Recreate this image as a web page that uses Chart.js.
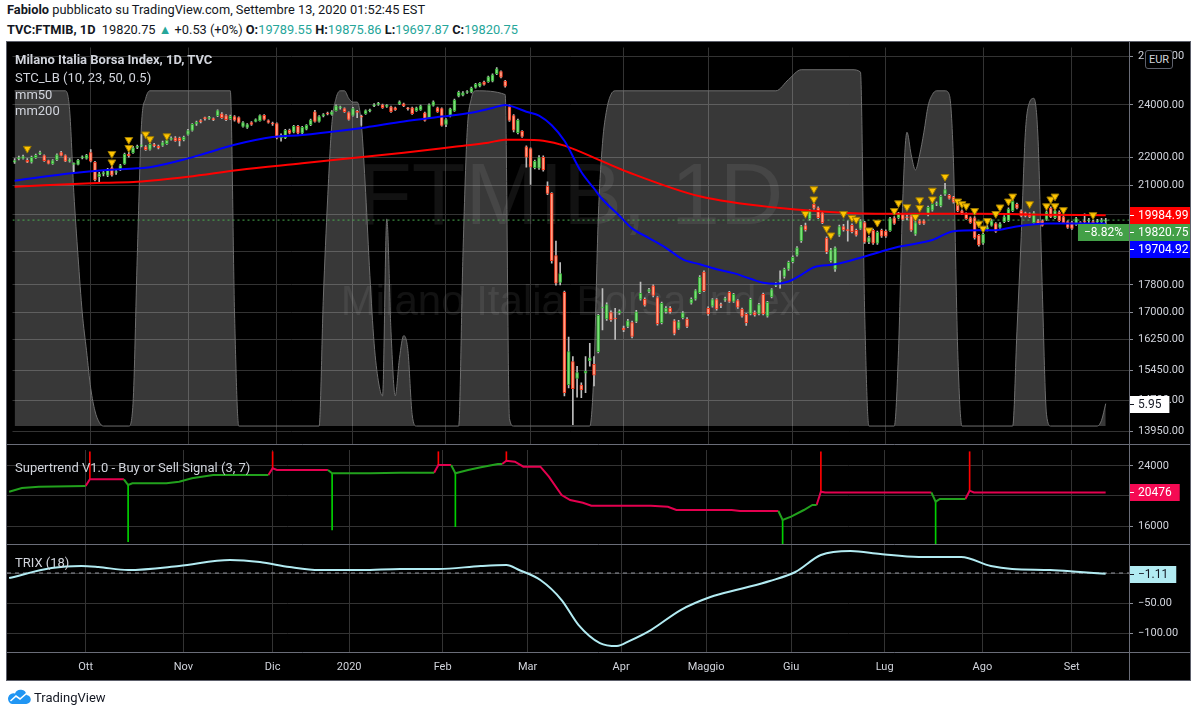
<!DOCTYPE html>
<html lang="it">
<head>
<meta charset="utf-8">
<title>FTMIB 1D - TradingView</title>
<script src="https://cdn.jsdelivr.net/npm/chart.js@4.4.1/dist/chart.umd.min.js"></script>
<style>
  html, body { margin: 0; padding: 0; background: #ffffff; }
  body { position: relative; width: 1197px; height: 716px; overflow: hidden; font-family: Roboto, 'Liberation Sans', sans-serif; }
  .riga { position: absolute; left: 7px; color: #131722; white-space: nowrap; line-height: 16px; font-size: 12.8px; }
  #riga1 { top: 2px; }
  #riga2 { top: 22px; }
  .teal { color: #26a69a; }
  #pannello { position: absolute; left: 7px; top: 42px; width: 1183px; height: 638px; background: #000; box-shadow: 0 0 0 1px #5d606b; }
  #pannello canvas { position: absolute; left: 0; }
  .leg { position: absolute; left: 8px; color: #d1d4dc; font-size: 13px; white-space: nowrap; line-height: 17px; }
  #eur { position: absolute; left: 1138px; top: 8px; width: 26px; height: 17px; border: 1px solid #5d606b; border-radius: 3px;
         background: #000; color: #d1d4dc; font-size: 11px; text-align: center; line-height: 17px; }
  #logo { position: absolute; left: 7px; top: 689px; display: flex; align-items: center; gap: 3px; font-size: 13px; color: #131722; }
</style>
</head>
<body>
<div class="riga" id="riga1"><b>Fabiolo</b> pubblicato su TradingView.com, Settembre 13, 2020 01:52:45 EST</div>
<div class="riga" id="riga2"><b>TVC:FTMIB, 1D</b>&nbsp; 19820.75 <span class="teal">▲</span> +0.53 (+0%) <b>O:</b><span class="teal">19789.55</span> <b>H:</b><span class="teal">19875.86</span> <b>L:</b><span class="teal">19697.87</span> <b>C:</b><span class="teal">19820.75</span></div>

<div id="pannello">
  <canvas id="cPrezzo" width="1183" height="408" style="top:0"></canvas>
  <canvas id="cSuper" width="1183" height="95" style="top:408px"></canvas>
  <canvas id="cTrix" width="1183" height="135" style="top:503px"></canvas>
  <div class="leg" style="top:9px;font-weight:bold">Milano Italia Borsa Index, 1D, TVC</div>
  <div class="leg" style="top:27px">STC_LB (10, 23, 50, 0.5)</div>
  <div class="leg" style="top:44px">mm50</div>
  <div class="leg" style="top:60px">mm200</div>
  <div class="leg" style="top:417px">Supertrend V1.0 - Buy or Sell Signal (3, 7)</div>
  <div class="leg" style="top:512px">TRIX (18)</div>
  <div id="eur">EUR</div>
</div>

<div id="logo">
  <svg width="24" height="16" viewBox="0 0 24 16"><path d="M5 15 H19 A4.5 4.5 0 0 0 19.5 6 A6 6 0 0 0 8 4.5 A4.5 4.5 0 0 0 5 15 Z" fill="#2196f3"/><path d="M3.5 12 L9 7 L13 10 L20 4" stroke="#fff" stroke-width="1.6" fill="none"/></svg>
  TradingView
</div>

<script>
// mesi sull'asse x (il primo, settembre 2019, e' parziale e senza etichetta)
const mesi = ['Set', 'Ott', 'Nov', 'Dic', '2020', 'Feb', 'Mar', 'Apr', 'Maggio', 'Giu', 'Lug', 'Ago', 'Set'];
const giorniMese = [18, 23, 21, 18, 22, 20, 22, 20, 20, 22, 23, 21, 9];

// candele giornaliere [open, high, low, close]
const cSet19 = [
  [21820,21950,21780,21880],[21950,22040,21900,21960],[21960,22080,21930,22030],[21890,21950,21800,21820],
  [21820,22040,21790,22000],[21990,22120,21960,22070],[22120,22230,22100,22170],[22060,22090,21850,21880],
  [21880,21900,21760,21780],[21760,21920,21740,21880],[21900,22130,21880,22090],[22170,22220,22050,22070],
  [22060,22090,21840,21860],[21860,21950,21820,21910],[21740,21800,21470,21750],[21740,21930,21720,21900],
  [21980,22050,21940,21990],[21960,22110,21930,22070]
];
const cOtt19 = [
  [22170,22280,21830,21860],[21820,21850,21150,21190],[21300,21460,21120,21400],[21400,21520,21330,21450],
  [21350,21600,21300,21560],[21620,21680,21320,21360],[21450,21560,21380,21470],[21560,21740,21520,21700],
  [21760,22150,21740,22110],[22110,22180,22000,22060],[22170,22400,22140,22350],[22360,22450,22320,22400],
  [22420,22850,22380,22440],[22390,22430,22250,22280],[22290,22520,22260,22480],[22440,22520,22380,22430],
  [22400,22450,22310,22350],[22440,22600,22400,22540],[22500,22700,22480,22640],[22660,22760,22630,22710],
  [22720,22770,22590,22610],[22710,22750,22420,22610],[22640,22790,22610,22750]
];
const cNov19 = [
  [22850,23050,22820,23000],[23000,23270,22980,23240],[23250,23360,23200,23320],[23350,23420,23290,23340],
  [23470,23520,23400,23460],[23470,23550,23430,23510],[23460,23490,23380,23420],[23570,23800,23540,23770],
  [23650,23700,23470,23500],[23580,23620,23380,23420],[23460,23600,23430,23560],[23540,23580,23360,23400],
  [23500,23530,23280,23310],[23160,23340,23130,23310],[23120,23270,23080,23230],[23310,23340,23200,23230],
  [23350,23450,23330,23420],[23380,23610,23360,23580],[23590,23620,23400,23430],[23380,23410,23280,23310],
  [23270,23320,23200,23250]
];
const cDic19 = [
  [23270,23300,22680,22720],[22720,22870,22600,22830],[22720,23050,22690,23010],[23010,23060,22870,22900],
  [22940,23200,22910,23160],[23160,23200,22870,22900],[22900,23160,22870,23120],[23050,23230,23020,23200],
  [23220,23440,23190,23400],[23730,23780,23320,23350],[23350,23580,23320,23540],[23560,23660,23530,23620],
  [23680,23720,23600,23640],[23620,23770,23590,23730],[23770,24000,23750,23960],[23880,23950,23830,23890],
  [23850,23880,23700,23730],[23700,23730,23400,23430]
];
const cGen20 = [
  [23580,23900,23550,23850],[23740,23780,23500,23700],[23560,23600,23200,23520],[23650,23800,23620,23770],
  [23760,23830,23720,23780],[23960,24050,23930,24000],[24020,24100,23980,24040],[24000,24030,23860,23890],
  [23940,24010,23900,23970],[23920,23950,23700,23730],[23880,23910,23780,23810],[24040,24160,24010,24120],
  [24040,24070,23930,23960],[23850,23900,23790,23840],[23880,23910,23620,23650],[23770,23910,23740,23880],
  [23800,23990,23780,23960],[23690,23720,23360,23390],[23500,24040,23470,24000],[23980,24160,23950,24120],
  [23880,23910,23700,23730],[23850,23880,23170,23200]
];
const cFeb20 = [
  [23230,23460,23150,23420],[23560,23870,23530,23840],[23770,24230,23740,24190],[24350,24560,24320,24510],
  [24390,24540,24360,24490],[24500,24580,24460,24520],[24510,24720,24480,24680],[24710,24870,24680,24830],
  [24760,24910,24730,24870],[24930,24970,24800,24830],[24940,25180,24910,25140],[24960,25270,24930,25230],
  [25280,25530,25240,25480],[25370,25400,25100,25130],[24970,25000,24720,24760],[23920,24000,23350,23390],
  [23580,23620,22950,23010],[22920,23440,22870,23400],[22970,23000,22740,22780],[22390,22420,21640,22000]
];
const cMar20 = [
  [22320,22350,21030,21640],[21620,21900,21580,21850],[21610,22060,21560,21990],[22000,22050,21500,21540],
  [20960,21120,20680,20720],[20720,20750,18450,18530],[18690,19140,17790,17850],[17870,18470,17800,18140],
  [17580,17620,14800,14880],[15080,16320,15000,15930],[15670,15800,14110,14980],[15240,15550,14770,15390],
  [15070,15130,14760,14950],[15370,15800,14880,15420],[15690,16150,15550,15770],[15600,15800,15050,15320],
  [15930,16950,15900,16920],[17130,17690,16520,17150],[16820,17280,16780,17230],[17000,17050,16750,16790],
  [16840,17120,16260,16820],[16990,17080,16950,17040]
];
const cApr20 = [
  [16570,16620,16470,16520],[16610,16810,16580,16770],[16720,16760,16300,16340],[16750,17060,16720,17020],
  [17380,17880,17350,17550],[17380,17420,17180,17210],[17610,17700,17570,17660],[17770,17800,17450,17490],
  [17430,17460,16650,16690],[16720,17300,16680,17260],[17020,17170,16980,17130],[17130,17170,16980,17020],
  [16770,16800,16380,16420],[16560,16780,16530,16740],[16850,17030,16820,16990],[16820,16860,16580,16610],
  [17270,17420,17240,17380],[17380,17660,17350,17630],[17570,18080,17540,18030],[18180,18220,17600,17630]
];
const cMag20 = [
  [17120,17160,16920,16960],[17180,17400,17150,17370],[17370,17400,17070,17100],[17210,17270,17140,17200],
  [17350,17440,17320,17400],[17580,17610,17290,17320],[17320,17550,17290,17520],[17340,17370,17120,17150],
  [17100,17130,16870,16900],[16950,16980,16640,16720],[16960,17410,16930,17380],[17000,17050,16900,16930],
  [16960,17260,16930,17230],[17520,17560,16930,16960],[16900,17320,16870,17290],[17450,17690,17420,17660],
  [17780,17870,17750,17830],[17920,18220,17700,17940],[18050,18300,18000,18270],[18270,18520,18230,18480]
];
const cGiu20 = [
  [18500,18680,18460,18630],[18700,18970,18670,18930],[19150,19650,19100,19610],[19640,19720,19460,19500],
  [19860,20170,19820,20130],[20350,20500,20180,20220],[20230,20260,19870,19900],[20060,20100,19700,19740],
  [19240,19280,18750,18800],[18520,18910,18480,18870],[18270,18960,18200,18930],[19330,19660,19290,19610],
  [19610,19680,19460,19500],[19500,19800,19140,19480],[19650,19700,19400,19440],[19490,19530,19300,19330],
  [19550,19840,19520,19800],[19740,19780,19070,19110],[19110,19300,19060,19250],[19490,19530,19040,19080],
  [19080,19460,19040,19420],[19490,19530,19260,19300]
];
const cLug20 = [
  [19460,19500,19260,19300],[19480,19910,19450,19870],[19900,19940,19680,19710],[19900,20080,19870,20030],
  [20000,20040,19810,19840],[19910,19990,19830,19900],[19960,20000,19450,19490],[19360,19780,19320,19740],
  [19800,19840,19680,19710],[19800,19830,19680,19710],[19990,20290,19960,20250],[20150,20390,20120,20350],
  [20350,20430,20300,20360],[20290,20660,20260,20620],[20690,21070,20650,20850],[20650,20690,20520,20550],
  [20590,20620,20390,20420],[20450,20480,20100,20130],[20130,20160,20000,20030],[20030,20060,19840,19870],
  [19900,19930,19710,19740],[19900,19940,19200,19240],[19330,19360,18980,19020]
];
const cAgo20 = [
  [19080,19400,19040,19360],[19540,19640,19470,19560],[19650,19840,19620,19800],[19710,19740,19420,19450],
  [19580,19740,19550,19700],[19770,19970,19740,19930],[19800,20230,19770,20190],[20130,20500,20100,20450],
  [20350,20390,20190,20220],[20130,20160,19930,19960],[20060,20090,19930,19960],[20030,20060,19900,19930],
  [19740,20100,19710,20060],[19800,19840,19680,19710],[19800,19830,19620,19650],[19840,20130,19810,20090],
  [20220,20260,19900,19930],[19900,20170,19870,20130],[20090,20130,19770,19800],[19930,19960,19710,19740],
  [19770,19800,19550,19580]
];
const cSet20 = [
  [19740,19780,19520,19550],[19680,19910,19650,19870],[19740,19770,19450,19490],[19770,20030,19580,19760],
  [19800,19880,19730,19810],[19770,19810,19680,19710],[19760,19850,19720,19800],[19760,19880,19730,19820.22],
  [19789.55,19875.86,19697.87,19820.75]
];

// medie mobili [indice candela, valore]
const mm50 = [[0,21160],[14,21430],[21,21530],[29,21600],[32,21640],[41,21960],[45,22140],[52,22460],[61,22750],
  [68,22830],[78,23010],[83,23120],[92,23350],[101,23540],[108,23690],[113,23880],[116,24000],[118,23920],
  [121,23730],[124,23580],[127,23200],[130,22610],[134,21470],[137,20890],[139,20520],[143,19965],[146,19550],
  [150,19240],[154,18930],[158,18570],[162,18420],[166,18270],[170,18150],[174,17980],[177,17860],[180,17830],
  [183,17900],[186,18100],[189,18330],[194,18420],[201,18660],[209,18960],[217,19175],[222,19460],[228,19490],
  [232,19490],[236,19590],[244,19710],[258,19704.92]];
const mm200 = [[0,20950],[21,21090],[29,21125],[41,21300],[53,21540],[68,21780],[92,22170],[104,22390],[112,22540],
  [116,22650],[120,22650],[125,22610],[130,22430],[139,21850],[145,21470],[162,20620],[181,20220],[197,20060],
  [213,20030],[228,20030],[244,20000],[258,19984.99]];

// STC_LB (scala 0-100, area grigia)
const stc = [[0,89],[12,89],[13,84],[14,62],[15,45],[16,30],[17,20],[18,10],[19,4],[20,1],[21,0],[27,0],[28,6],
  [29,45],[30,80],[31,87],[32,89],[51,89],[52,30],[53,0],[72,0],[73,34],[74,60],[75,80],[76,87],[77,89],[78,89],
  [79,87],[80,86],[81,86],[82,80],[83,62],[84,40],[85,22],[86,12],[87,8],[88,55],[89,25],[90,8],[91,18],[92,24],
  [93,20],[94,3],[95,0],[105,0],[106,45],[107,78],[108,87],[109,89],[116,88],[117,2],[118,0],[136,0],[137,15],
  [138,55],[139,75],[140,84],[141,88],[142,89],[180,89],[183,92],[186,94.6],[198,94.6],[200,94],[201,30],[202,0],
  [208,0],[209,20],[210,60],[211,78],[212,72],[213,68],[214,72],[215,78],[216,85],[217,88],[218,89],[220,89],
  [221,88],[222,70],[223,20],[224,0],[236,0],[237,25],[238,50],[239,78],[240,86],[241,87],[242,76],[243,36],
  [244,3],[245,0],[256,0],[257,1.5],[258,5.95]];

// triangoli gialli sopra le candele
const segnali = [[3,22320],[23,22130],[23,21820],[27,22650],[27,22350],[31,22860],[32,22680],[36,22790],
  [187,20030],[189,20870],[189,20520],[192,19550],[193,19330],[196,20030],[198,19900],[199,19840],[202,19490],
  [204,19740],[208,20130],[209,20390],[211,20260],[213,19930],[214,20490],[214,20230],[217,20820],[217,20520],
  [220,21300],[223,20450],[224,20360],[225,20290],[227,20130],[228,19710],[229,19550],[230,19800],[232,20030],
  [233,20250],[235,20450],[236,20620],[240,20360],[244,20290],[245,20520],[246,20620],[246,20290],[248,20160],
  [255,19990]];

// Supertrend: tratti verdi (rialzo) e rossi (ribasso)
const stVerde = [
  [[0,20573],[3,21067],[7,21240],[18,21333]],
  [[27,22227],[28,21467],[29,21693],[37,21693],[40,21907],[43,22360],[48,22800],[61,22800]],
  [[75,23467],[76,23027],[85,23027],[92,23110],[100,23110]],
  [[104,24133],[105,23027],[108,23467],[111,23830],[115,24267],[116,24267]],
  [[181,18000],[182,16800],[184,17240],[187,18133],[189,18800],[190,18800]],
  [[217,20476],[218,19240],[219,19600],[225,19600]]
];
const stRosso = [
  [[18,21333],[19,22227],[27,22227]],
  [[61,22800],[62,23693],[63,23467],[75,23467]],
  [[100,23110],[101,24133],[104,24133]],
  [[116,24267],[117,24707],[119,24573],[121,23907],[125,23907],[127,22573],[130,20133],[132,19467],[135,19107],
   [137,18707],[151,18707],[155,18573],[157,18133],[170,18133],[172,18000],[181,18000]],
  [[190,18800],[191,20573],[192,20476],[217,20476]],
  [[225,19600],[226,20707],[227,20476],[258,20476]]
];
// frecce del Supertrend [indice, da, a]
const stVendita = [[19,22227,25900],[62,23693,25900],[101,24133,25900],[117,24707,25900],[191,20573,25900],[226,20707,25900]];
const stAcquisto = [[28,21467,13900],[76,23027,15470],[105,23027,15910],[182,16800,13470],[218,19240,13470]];

// TRIX (18)
const trix = [[0,-8.3],[10,8.3],[17,11.7],[21,10],[28,5],[40,11.7],[52,21.7],[59,18.3],[66,10],[73,5],[83,5],
  [92,6.7],[101,6.7],[111,11.7],[117,13.3],[120,5],[125,-11.7],[130,-45],[134,-86.7],[139,-116.7],[143,-121.7],
  [146,-113],[151,-95],[158,-61.7],[165,-40],[172,-26.7],[179,-13.3],[185,1.7],[191,30],[198,36.7],[205,31.7],
  [214,26.7],[224,26.7],[231,11.7],[236,6.7],[245,5],[252,1.7],[258,-1.11]];
const trixZero = 0;

const tickPrezzo = [13950, 14700, 15450, 16250, 17000, 17800, 18800, 20000, 21000, 22000, 24000, 26000];
const tickSuper = [16000, 20000, 24000];
const tickTrix = [-100, -50, 0];
const variazione = '\u22128.82%';

const FONT = "Roboto, 'Liberation Sans', sans-serif";
const GRIGLIA = '#333333';
const BORDO = '#6a6d78';
const TESTO_ASSE = '#d1d4dc';

Chart.defaults.font.family = FONT;
Chart.defaults.font.size = 11;

const candele = [].concat(cSet19, cOtt19, cNov19, cDic19, cGen20, cFeb20, cMar20, cApr20, cMag20, cGiu20, cLug20, cAgo20, cSet20);
const ultimo = candele.length - 1;
const xMax = ultimo + 0.5 + 5;

const inizioMese = [];
let conta = 0;
giorniMese.forEach((g, k) => { if (k > 0) inizioMese.push(conta); conta += g; });
const etichettaMese = {};
inizioMese.forEach((v, k) => { etichettaMese[v] = mesi[k + 1]; });

const punti = arr => arr.map(([x, y]) => ({ x, y }));
const ultimoDi = arr => arr[arr.length - 1][1];
const meno = v => (v < 0 ? '\u2212' : '') + Math.abs(v).toFixed(2);

function asseX(conEtichette) {
  return {
    type: 'linear', min: -0.5, max: xMax, offset: false, bounds: 'data',
    grid: { color: GRIGLIA, drawTicks: false, offset: false },
    border: { display: false },
    ticks: {
      display: conEtichette, color: TESTO_ASSE, padding: 8, maxRotation: 0, autoSkip: false,
      callback: v => etichettaMese[v] || ''
    },
    afterBuildTicks: s => { s.ticks = inizioMese.map(v => ({ value: v })); },
    afterFit: s => { s.height = conEtichette ? 27 : 0; s.paddingLeft = 0; s.paddingRight = 0; }
  };
}

function asseY(tipo, min, max, valori, formato) {
  return {
    type: tipo, position: 'right', min: min, max: max, bounds: 'data',
    grid: { color: GRIGLIA, tickLength: 4, tickColor: '#8a8d96' },
    border: { display: true, color: BORDO },
    ticks: { color: TESTO_ASSE, padding: 5, callback: formato },
    afterBuildTicks: s => { s.ticks = valori.map(v => ({ value: v })); },
    afterFit: s => { s.width = 61; s.paddingTop = 0; s.paddingBottom = 0; }
  };
}

const cornice = {
  id: 'cornice',
  afterDraw(chart) {
    const { ctx, chartArea } = chart;
    ctx.save();
    ctx.strokeStyle = BORDO;
    ctx.lineWidth = 1;
    ctx.beginPath();
    const xr = Math.round(chartArea.right) + 0.5;
    ctx.moveTo(xr, 0); ctx.lineTo(xr, chart.height);
    const yb = Math.round(chartArea.bottom) - 0.5;
    ctx.moveTo(0, yb); ctx.lineTo(chart.width, yb);
    ctx.stroke();
    ctx.restore();
  }
};

const etichette = {
  id: 'etichette',
  afterDraw(chart, args, opts) {
    const { ctx, chartArea } = chart;
    const voci = (opts.voci || []).map(e => Object.assign({}, e, { y: chart.scales[e.asse || 'y'].getPixelForValue(e.valore) }))
      .sort((a, b) => a.y - b.y);
    let prec = -Infinity;
    voci.forEach(e => { if (e.y < prec + 17) e.y = prec + 17; prec = e.y; });
    ctx.save();
    ctx.font = '12px ' + FONT;
    ctx.textBaseline = 'middle';
    const x0 = Math.round(chartArea.right) + 1;
    voci.forEach(e => {
      const y = Math.round(e.y);
      const w = Math.min(ctx.measureText(e.testo).width + 16, chart.width - x0);
      ctx.fillStyle = e.sfondo;
      ctx.fillRect(x0, y - 8, w, 17);
      ctx.fillStyle = e.colore;
      ctx.fillRect(x0, y, 4, 1);
      ctx.fillText(e.testo, x0 + 8, y + 1);
      if (e.extra) {
        const we = ctx.measureText(e.extra).width + 12;
        ctx.fillStyle = e.sfondo;
        ctx.fillRect(x0 - 1 - we, y - 8, we, 17);
        ctx.fillStyle = e.colore;
        ctx.fillText(e.extra, x0 - we + 5, y + 1);
      }
    });
    ctx.restore();
  }
};

const filigrana = {
  id: 'filigrana',
  beforeDatasetsDraw(chart, args, opts) {
    if (!opts.titolo) return;
    const { ctx, chartArea } = chart;
    const cx = (chartArea.left + chartArea.right) / 2;
    ctx.save();
    ctx.fillStyle = 'rgba(255,255,255,0.07)';
    ctx.textAlign = 'center';
    ctx.textBaseline = 'middle';
    ctx.font = "88px 'Liberation Sans', sans-serif";
    ctx.fillText(opts.titolo, cx, 158);
    ctx.font = "42px 'Liberation Sans', sans-serif";
    ctx.fillText(opts.sottotitolo, cx, 261);
    ctx.restore();
  }
};

const base = {
  responsive: false,
  animation: false,
  events: [],
  layout: { padding: 0 }
};

function creaGrafici() {
  const su = candele.map(c => c[3] >= c[0]);

  new Chart(document.getElementById('cPrezzo'), {
    type: 'bar',
    data: {
      datasets: [
        { type: 'line', label: 'STC', yAxisID: 'yStc', data: punti(stc), borderColor: '#6e6e6e', borderWidth: 1,
          backgroundColor: 'rgba(255,255,255,0.22)', fill: 'origin', pointRadius: 0, cubicInterpolationMode: 'monotone', order: 10 },
        { type: 'line', label: 'ultimo', data: [{ x: -0.5, y: candele[ultimo][3] }, { x: xMax, y: candele[ultimo][3] }],
          borderColor: '#4caf50', borderWidth: 1, borderDash: [2, 3], pointRadius: 0, order: 9 },
        { label: 'ombre', data: candele.map((c, i) => ({ x: i, y: [c[2], c[1]] })), backgroundColor: '#bdbdbd',
          barThickness: 1, grouped: false, order: 5 },
        { label: 'corpi', data: candele.map((c, i) => ({ x: i, y: [Math.min(c[0], c[3]), Math.max(c[0], c[3])] })),
          backgroundColor: su.map(s => s ? '#7ddf7a' : '#ffa085'),
          borderColor: su.map(s => s ? '#34a534' : '#f23a1f'),
          borderWidth: 1, borderSkipped: false, barThickness: 3, grouped: false, minBarLength: 1, order: 4 },
        { type: 'line', label: 'mm200', data: punti(mm200), borderColor: '#ff0000', borderWidth: 2, pointRadius: 0,
          cubicInterpolationMode: 'monotone', order: 3 },
        { type: 'line', label: 'mm50', data: punti(mm50), borderColor: '#0000ff', borderWidth: 2, pointRadius: 0,
          cubicInterpolationMode: 'monotone', order: 2 },
        { type: 'line', label: 'segnali', data: punti(segnali), showLine: false, pointStyle: 'triangle', rotation: 180,
          pointRadius: 4.5, backgroundColor: '#ffc400', borderColor: '#9c7a00', borderWidth: 1, order: 1 }
      ]
    },
    options: Object.assign({}, base, {
      scales: {
        x: asseX(false),
        y: asseY('logarithmic', 13655, 26400, tickPrezzo, v => Number(v).toFixed(2)),
        yStc: { type: 'linear', display: false, min: -4.9, max: 100.5 }
      },
      plugins: {
        legend: { display: false }, tooltip: { enabled: false },
        filigrana: { titolo: 'FTMIB, 1D', sottotitolo: 'Milano Italia Borsa Index' },
        etichette: { voci: [
          { valore: ultimoDi(mm200), testo: ultimoDi(mm200).toFixed(2), sfondo: '#ff0000', colore: '#ffffff' },
          { valore: candele[ultimo][3], testo: candele[ultimo][3].toFixed(2), sfondo: '#43a047', colore: '#ffffff', extra: variazione },
          { valore: ultimoDi(mm50), testo: ultimoDi(mm50).toFixed(2), sfondo: '#0000ff', colore: '#ffffff' },
          { asse: 'yStc', valore: ultimoDi(stc), testo: ultimoDi(stc).toFixed(2), sfondo: '#ffffff', colore: '#131722' }
        ] }
      }
    }),
    plugins: [filigrana, cornice, etichette]
  });

  const datiSuper = [];
  stVerde.forEach(seg => datiSuper.push({ type: 'line', data: punti(seg), borderColor: '#22a11d', borderWidth: 2,
    pointRadius: 0, order: 2 }));
  stRosso.forEach(seg => datiSuper.push({ type: 'line', data: punti(seg), borderColor: '#e4004f', borderWidth: 2,
    pointRadius: 0, order: 2 }));
  datiSuper.push({ label: 'vendita', data: stVendita.map(([x, a, b]) => ({ x, y: [a, b] })), backgroundColor: '#ff0000',
    barThickness: 1, grouped: false, order: 3 });
  datiSuper.push({ label: 'acquisto', data: stAcquisto.map(([x, a, b]) => ({ x, y: [b, a] })), backgroundColor: '#00d000',
    barThickness: 1, grouped: false, order: 3 });

  new Chart(document.getElementById('cSuper'), {
    type: 'bar',
    data: { datasets: datiSuper },
    options: Object.assign({}, base, {
      scales: {
        x: asseX(false),
        y: asseY('linear', 13467, 26133, tickSuper, v => String(v))
      },
      plugins: {
        legend: { display: false }, tooltip: { enabled: false },
        etichette: { voci: [
          { valore: ultimoDi(stRosso[stRosso.length - 1]), testo: String(ultimoDi(stRosso[stRosso.length - 1])), sfondo: '#f50a53', colore: '#ffffff' }
        ] }
      }
    }),
    plugins: [cornice, etichette]
  });

  new Chart(document.getElementById('cTrix'), {
    type: 'line',
    data: {
      datasets: [
        { label: 'zero', data: [{ x: -0.5, y: trixZero }, { x: xMax, y: trixZero }], borderColor: '#9598a1', borderWidth: 1,
          borderDash: [4, 4], pointRadius: 0, order: 2 },
        { label: 'TRIX', data: punti(trix), borderColor: '#b2ebf2', borderWidth: 2, pointRadius: 0,
          cubicInterpolationMode: 'monotone', order: 1 }
      ]
    },
    options: Object.assign({}, base, {
      scales: {
        x: asseX(true),
        y: asseY('linear', -133.3, 46.7, tickTrix, v => meno(v))
      },
      plugins: {
        legend: { display: false }, tooltip: { enabled: false },
        etichette: { voci: [
          { valore: ultimoDi(trix), testo: meno(ultimoDi(trix)), sfondo: '#b2ebf2', colore: '#131722' }
        ] }
      }
    }),
    plugins: [cornice, etichette]
  });
}

creaGrafici();
</script>
</body>
</html>
